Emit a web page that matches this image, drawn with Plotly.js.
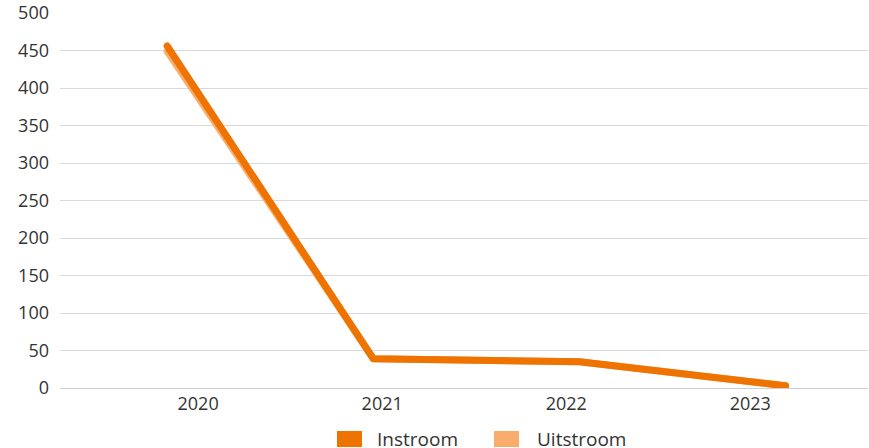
<!DOCTYPE html>
<html><head><meta charset="utf-8">
<script src="https://cdn.plot.ly/plotly-3.0.1.min.js"></script>
<style>html,body{margin:0;padding:0;background:#fff;}#chart{width:869px;height:448px;}
#chart .scatterlayer path.js-line{stroke-linecap:round !important;stroke-linejoin:round !important;}</style>
</head><body><div id="chart"></div>
<script>
const years = [2020, 2021, 2022, 2023];
const yearLabels = ['2020', '2021', '2022', '2023'];
const seriesNames = ['Instroom', 'Uitstroom'];
const instroom = [456, 39, 35, 3];
const uitstroom = [449, 39, 35, 3];

const cDark = '#EF7300';
const cLight = '#F8AD6D';
const colors = [cDark, cLight];

const traces = [
  {x: years, y: uitstroom, name: seriesNames[1], mode: 'lines', line: {color: cLight, width: 7}, hoverinfo: 'skip'},
  {x: years, y: instroom, name: seriesNames[0], mode: 'lines', line: {color: cDark, width: 7}, hoverinfo: 'skip'}
];

// legend drawn as squares + labels (pixel positions converted to paper coords)
const W = 808, H = 375, L = 60, B = 388;
const px = v => (v - L) / W;
const py = v => (B - v) / H;
const legendBoxes = [[337, 362], [494, 519]];
const legendText = [377, 537];
const shapes = legendBoxes.map((b, i) => ({
  type: 'rect', xref: 'paper', yref: 'paper',
  x0: px(b[0]), x1: px(b[1]), y0: py(447), y1: py(431),
  fillcolor: colors[i], line: {width: 0}
}));
const annotations = seriesNames.map((n, i) => ({
  text: n, xref: 'paper', yref: 'paper', x: px(legendText[i]) - 0.002, y: py(439),
  xanchor: 'left', yanchor: 'middle', showarrow: false,
  font: {size: 19, color: '#333'}
}));

const layout = {
  width: 869, height: 448,
  margin: {l: 60, r: 1, t: 13, b: 60, autoexpand: false},
  paper_bgcolor: '#fff', plot_bgcolor: '#fff',
  font: {family: 'Open Sans, Noto Sans, sans-serif', color: '#333', size: 17},
  showlegend: false,
  xaxis: {
    range: [2019.48, 2023.40],
    tickmode: 'array',
    tickvals: years.map((y, i) => 2020.15 + i * 0.893),
    ticktext: yearLabels,
    showgrid: false, zeroline: false, showline: false,
    ticks: '', tickfont: {size: 18, color: '#333'},
    ticklabelstandoff: 3
  },
  yaxis: {
    range: [0, 500], dtick: 50, tick0: 0,
    showgrid: true, gridcolor: '#d9d9d9', gridwidth: 1,
    zeroline: true, zerolinecolor: '#cfcfcf', zerolinewidth: 1,
    showline: false, ticks: '', tickfont: {size: 18, color: '#333'},
    ticklabelstandoff: 10
  },
  shapes: shapes,
  annotations: annotations
};

Plotly.newPlot('chart', traces, layout, {displayModeBar: false, staticPlot: true});
</script></body></html>
